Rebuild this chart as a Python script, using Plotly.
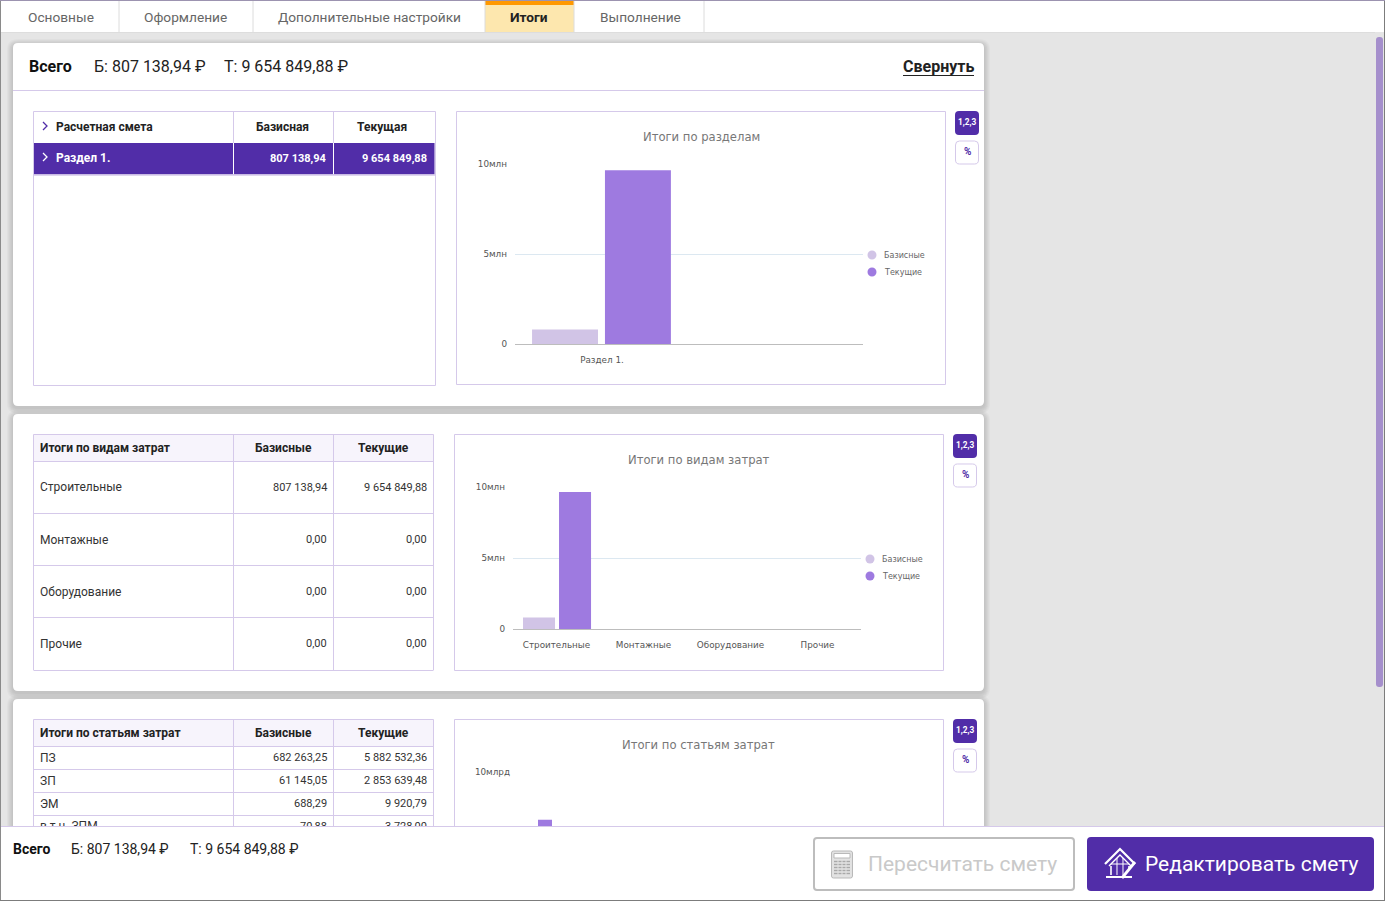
import plotly.graph_objects as go

W, H = 1385, 901
PURPLE = "#512da8"; LIGHT = "#d1c4e6"; MID = "#9e7ae0"; BORDER = "#d5c9ea"
UI = "Roboto"; CH = "DejaVu Sans"

# ---------- data ----------
tabs = ["Основные", "Оформление", "Дополнительные настройки", "Итоги", "Выполнение"]
total_base = "Б: 807 138,94 ₽"
total_cur = "Т: 9 654 849,88 ₽"
series_names = ["Базисные", "Текущие"]

sections = ["Раздел 1.", " "]
sections_base = [807138.94, None]
sections_cur = [9654849.88, None]
section_row = ["Раздел 1.", "807 138,94", "9 654 849,88"]

kinds = ["Строительные", "Монтажные", "Оборудование", "Прочие"]
kinds_base = [807138.94, 0, 0, 0]
kinds_cur = [9654849.88, 0, 0, 0]
kinds_base_txt = ["807 138,94", "0,00", "0,00", "0,00"]
kinds_cur_txt = ["9 654 849,88", "0,00", "0,00", "0,00"]

items = ["ПЗ", "ЗП", "ЭМ", "в т.ч. ЗПМ"]
items_base = [682263250, 61145050, 688290, 70880]
items_cur = [5882532360, 2853639480, 9920790, 3728000]
items_base_txt = ["682 263,25", "61 145,05", "688,29", "70,88"]
items_cur_txt = ["5 882 532,36", "2 853 639,48", "9 920,79", "3 728,00"]

ticks_mln = [0, 5000000, 10000000]
ticks_mln_txt = ["0", "5млн", "10млн"]
ticks_mlrd = [0, 5000000000, 10000000000]
ticks_mlrd_txt = ["0", "5млрд", "10млрд"]

# ---------- helpers ----------
px = lambda x: x / W
py = lambda y: 1 - y / H
shapes, notes = [], []

def rect(x0, y0, x1, y1, fill=None, line=None, lw=1, layer="below"):
    shapes.append(dict(type="rect", xref="paper", yref="paper", x0=px(x0), x1=px(x1), y0=py(y0), y1=py(y1),
                       fillcolor=fill or "rgba(0,0,0,0)", line=dict(color=line or "rgba(0,0,0,0)", width=lw if line else 0), layer=layer))

def seg(x0, y0, x1, y1, color=BORDER, lw=1, layer="below"):
    shapes.append(dict(type="line", xref="paper", yref="paper", x0=px(x0), x1=px(x1), y0=py(y0), y1=py(y1),
                       line=dict(color=color, width=lw), layer=layer))

def P(x, y):
    return f"{px(x):.6f},{py(y):.6f}"

def rrect(x0, y0, x1, y1, r, fill=None, line=None, lw=1, layer="below"):
    d = (f"M{P(x0+r,y0)} L{P(x1-r,y0)} Q{P(x1,y0)} {P(x1,y0+r)} L{P(x1,y1-r)} Q{P(x1,y1)} {P(x1-r,y1)} "
         f"L{P(x0+r,y1)} Q{P(x0,y1)} {P(x0,y1-r)} L{P(x0,y0+r)} Q{P(x0,y0)} {P(x0+r,y0)} Z")
    shapes.append(dict(type="path", xref="paper", yref="paper", path=d, fillcolor=fill or "rgba(0,0,0,0)",
                       line=dict(color=line or "rgba(0,0,0,0)", width=lw if line else 0), layer=layer))

def poly(pts, color, lw=1.5, layer="below", fill=None, close=False):
    d = "M" + " L".join(P(*p) for p in pts) + (" Z" if close else "")
    shapes.append(dict(type="path", xref="paper", yref="paper", path=d, fillcolor=fill or "rgba(0,0,0,0)",
                       line=dict(color=color, width=lw), layer=layer))

def circle(cx, cy, r, fill):
    shapes.append(dict(type="circle", xref="paper", yref="paper", x0=px(cx-r), x1=px(cx+r), y0=py(cy+r), y1=py(cy-r),
                       fillcolor=fill, line=dict(width=0), layer="below"))

def text(x, y, s, size=12, color="#333", bold=False, anchor="left", font=UI):
    notes.append(dict(xref="paper", yref="paper", x=px(x), y=py(y), text=f"<b>{s}</b>" if bold else s, showarrow=False,
                      xanchor=anchor, yanchor="middle", font=dict(family=font, size=size, color=color),
                      xshift=0, yshift=0, borderpad=0, borderwidth=0))

# ---------- page chrome ----------
rect(0, 0, W, H, "#e5e5e5")
rect(0, 0, W, 32, "#ffffff")
seg(0, 32.5, 1375, 32.5, "#dddddd")
rect(485, 1, 574, 32, "#fde7ae")
rect(485, 1, 574, 5, "#ff9800")
for x in [119, 253, 485, 574, 704]:
    seg(x, 1, x, 32, "#dcdcdc")
for x, t, act in zip([28, 144, 278, 510, 600], tabs, [0, 0, 0, 1, 0]):
    text(x, 17, t, 13.7, "#222" if act else "#666", bool(act))

rrect(1376, 37, 1383, 687, 3, "#a58fcc")

for (y0, y1) in [(43, 406), (414, 691), (699, 900)]:
    for k in range(6, 0, -1):
        rrect(13-k, y0-k+2, 984+k, y1+k+2, 5+k, "rgba(0,0,0,0.022)")
    rrect(13, y0, 984, y1, 5, "#ffffff")

# ---------- card 1 header ----------
text(29, 67, "Всего", 16, "#111", True)
text(94, 67, total_base, 16, "#222")
text(224, 67, total_cur, 16, "#222")
text(974, 67, "Свернуть", 16, "#222", True, "right")
seg(903, 75.5, 974, 75.5, "#222")
seg(13, 90.5, 984, 90.5, BORDER)

# ---------- tables ----------
rect(33.5, 111.5, 435.5, 385.5, None, BORDER)
seg(233.5, 111.5, 233.5, 143, BORDER); seg(333.5, 111.5, 333.5, 143, BORDER)
rect(34, 143, 434.5, 174.5, PURPLE)
seg(233.5, 143, 233.5, 174.5, "#ffffff"); seg(333.5, 143, 333.5, 174.5, "#ffffff")
seg(33.5, 175, 435.5, 175, BORDER, 1.5)
poly([(43, 122), (47, 126), (43, 130)], PURPLE, 1.3)
poly([(43, 153), (47, 157), (43, 161)], "#ffffff", 1.3)
text(56, 127, "Расчетная смета", 12, "#222", True)
text(282, 127, "Базисная", 12, "#222", True, "center")
text(382, 127, "Текущая", 12, "#222", True, "center")
text(56, 158, section_row[0], 12, "#fff", True)
text(326.5, 158, section_row[1], 11, "#fff", True, "right")
text(426.5, 158, section_row[2], 11, "#fff", True, "right")

def table(y0, title, names, base, cur, row_tops, bottom):
    hdr = row_tops[0]
    rect(33.5, y0+.5, 433.5, hdr, "#f7f4fc")
    seg(33.5, y0+.5, 433.5, y0+.5); seg(33.5, y0+.5, 33.5, bottom); seg(433.5, y0+.5, 433.5, bottom)
    seg(233.5, y0+.5, 233.5, bottom); seg(333.5, y0+.5, 333.5, bottom)
    text(40, (y0+hdr)/2+.5, title, 12, "#222", True)
    text(283.5, (y0+hdr)/2+.5, series_names[0], 12, "#222", True, "center")
    text(383.5, (y0+hdr)/2+.5, series_names[1], 12, "#222", True, "center")
    for i, top in enumerate(row_tops):
        seg(33.5, top+.5, 433.5, top+.5)
    for i in range(len(row_tops)-1):
        cy = (row_tops[i]+row_tops[i+1])/2 + (0.6 if row_tops[i+1]-row_tops[i] > 30 and i in (1, 2) else 0)
        text(40, cy, names[i], 12, "#333")
        text(327, cy, base[i], 11, "#333", False, "right")
        text(427, cy, cur[i], 11, "#333", False, "right")

table(434, "Итоги по видам затрат", kinds, kinds_base_txt, kinds_cur_txt, [461, 513, 565, 617, 670], 670)
table(719, "Итоги по статьям затрат", items, items_base_txt, items_cur_txt, [746, 769, 792, 815], 840)

# ---------- chart boxes and buttons ----------
def chart_box(x0, y0, x1, y1, btnx, title, tx, ty, legend_y):
    rect(x0, y0, x1, y1, None, BORDER)
    text(tx, ty, title, 11.6, "#777", False, "center", CH)
    rrect(btnx, y0-.5, btnx+24, y0+23.5, 4, PURPLE)
    text(btnx+12, y0+10.5, "1,2,3", 8.3, "#fff", True, "center")
    rrect(btnx+.5, y0+29.5, btnx+23.5, y0+52.5, 4, "#fff", BORDER)
    text(btnx+12, y0+40, "%", 10, PURPLE, True, "center")
    if legend_y:
        for dy, col, nm in zip([0, 17], [LIGHT, MID], series_names):
            circle(x1-73.5, legend_y+dy, 4.5, col)
            text(x1-61.5, legend_y+dy+.5, nm, 8, "#666", False, "left", CH)

chart_box(456.5, 111.5, 945.5, 384.5, 955, "Итоги по разделам", 701, 137, 255)
chart_box(454.5, 434.5, 943.5, 670.5, 953, "Итоги по видам затрат", 699, 460, 559)
chart_box(454.5, 719.5, 943.5, 900, 953, "Итоги по статьям затрат", 699, 745, None)

# ---------- footer (drawn above the charts) ----------
rect(1, 826, 1384, 900, "#ffffff", layer="above")
seg(0, 826.5, W, 826.5, BORDER, 1, "above")
text(13, 849, "Всего", 14, "#111", True)
text(71, 849, total_base, 14, "#222")
text(190, 849, total_cur, 14, "#222")
rrect(814, 838, 1074, 890, 3, "#ffffff", "#bdbdbd", 2, "above")
rrect(1087, 837, 1374, 891, 4, PURPLE, None, 1, "above")
text(868, 864, "Пересчитать смету", 21, "#c9c9c9")
text(1145, 864, "Редактировать смету", 21, "#ffffff")
# calculator icon
rrect(831.5, 851, 852.5, 878, 2, "#e2e2e2", "#b9b9b9", 1, "above")
rect(834, 853.5, 850, 858, "#ffffff", "#b9b9b9", 1, "above")
for ry in [861.5, 864.5, 867.5, 870.5, 873.5]:
    seg(834, ry, 850, ry, "#a9a9a9", 1.4, "above")
for rx in [838, 842, 846]:
    seg(rx, 860, rx, 875, "#e2e2e2", 1, "above")
# house icon
poly([(1105, 864), (1120, 849), (1135, 864)], "#fff", 2.2, "above")
poly([(1109, 866), (1120, 855), (1131, 866)], "#fff", 1.4, "above")
poly([(1111, 866), (1111, 875)], "#fff", 1.6, "above")
poly([(1129, 866), (1129, 869)], "#fff", 1.6, "above")
poly([(1117, 858), (1117, 875)], "#fff", 1, "above")
poly([(1123, 858), (1123, 875)], "#fff", 1, "above")
poly([(1111, 864), (1129, 864)], "#fff", 1, "above")
poly([(1106, 877), (1132, 877)], "#fff", 2, "above")
poly([(1122, 878), (1135, 862)], "#fff", 2.8, "above")

# ---------- window frame ----------
seg(0.5, 0, 0.5, H, "#8a8a8a", 1, "above")
seg(1384.5, 0, 1384.5, H, "#7c7c7c", 1, "above")
seg(0, 900.5, W, 900.5, "#7c7c7c", 1, "above")
seg(0, 0.5, W, 0.5, "#9c93b0", 1, "above")

# ---------- charts ----------
fig = go.Figure()

def chart(n, cats, base, cur, tickvals, ticktext, x0, x1, ytop, ybot, rng, width, off_b, off_c, labels=True):
    xa, ya = f"x{n}" if n > 1 else "x", f"y{n}" if n > 1 else "y"
    for vals, col, nm, off in zip([base, cur], [LIGHT, MID], series_names, [off_b, off_c]):
        fig.add_trace(go.Bar(x=cats, y=vals, name=nm, marker=dict(color=col, line=dict(width=0)),
                             width=width, offset=off, xaxis=xa, yaxis=ya, showlegend=False))
    fig.update_layout({
        f"xaxis{n if n>1 else ''}": dict(domain=[px(x0), px(x1)], anchor=ya, type="category", range=rng, categoryorder="array",
            categoryarray=cats, showgrid=False, zeroline=False, showline=True, linecolor="#bdbdbd", linewidth=1, ticks="",
            showticklabels=labels, ticklabelstandoff=7, tickfont=dict(family=CH, size=8.8, color="#555"), automargin=False),
        f"yaxis{n if n>1 else ''}": dict(domain=[py(ybot), py(ytop)], anchor=xa, range=[0, tickvals[-1]], tickmode="array",
            tickvals=tickvals, ticktext=ticktext, showgrid=True, gridcolor="#dce8f1", gridwidth=1, zeroline=False, showline=False,
            ticks="", ticklabelstandoff=7, tickfont=dict(family=CH, size=8.8, color="#555"), automargin=False),
    })

chart(1, sections, sections_base, sections_cur, ticks_mln, ticks_mln_txt, 515, 863, 164, 344, [-0.5, 1.5], 0.379, -0.402, 0.017)
chart(2, kinds, kinds_base, kinds_cur, ticks_mln, ticks_mln_txt, 513, 861, 487, 629, [-0.5, 3.5], 0.368, -0.385, 0.029)
chart(3, items, items_base, items_cur, ticks_mlrd, ticks_mlrd_txt, 518, 861, 772, 888, [-0.5, 9.5], 0.408, -0.354, 0.083, labels=False)

# The fourth row of the last table runs under the footer, so it is drawn as chart-layer text.
row_y = 827
fig.add_trace(go.Scatter(x=[40], y=[row_y], mode="text", text=[items[3]], textposition="middle right",
                         textfont=dict(family=UI, size=12, color="#333"), xaxis="x4", yaxis="y4", showlegend=False, cliponaxis=False))
fig.add_trace(go.Scatter(x=[327, 427], y=[row_y, row_y], mode="text", text=[items_base_txt[3], items_cur_txt[3]],
                         textposition="middle left", textfont=dict(family=UI, size=11, color="#333"),
                         xaxis="x4", yaxis="y4", showlegend=False, cliponaxis=False))

fig.update_layout(
    width=W, height=H, margin=dict(l=0, r=0, t=0, b=0), autosize=False,
    paper_bgcolor="#e5e5e5", plot_bgcolor="rgba(0,0,0,0)", barmode="overlay", showlegend=False,
    xaxis4=dict(domain=[0, 1], range=[0, W], visible=False, anchor="y4"),
    yaxis4=dict(domain=[0, 1], range=[H, 0], visible=False, anchor="x4"),
    shapes=shapes, annotations=notes, hovermode=False,
)

fig.write_html("out.html", config={"displayModeBar": False},
               post_script="document.body.style.margin='0';document.documentElement.style.overflow='hidden';")
